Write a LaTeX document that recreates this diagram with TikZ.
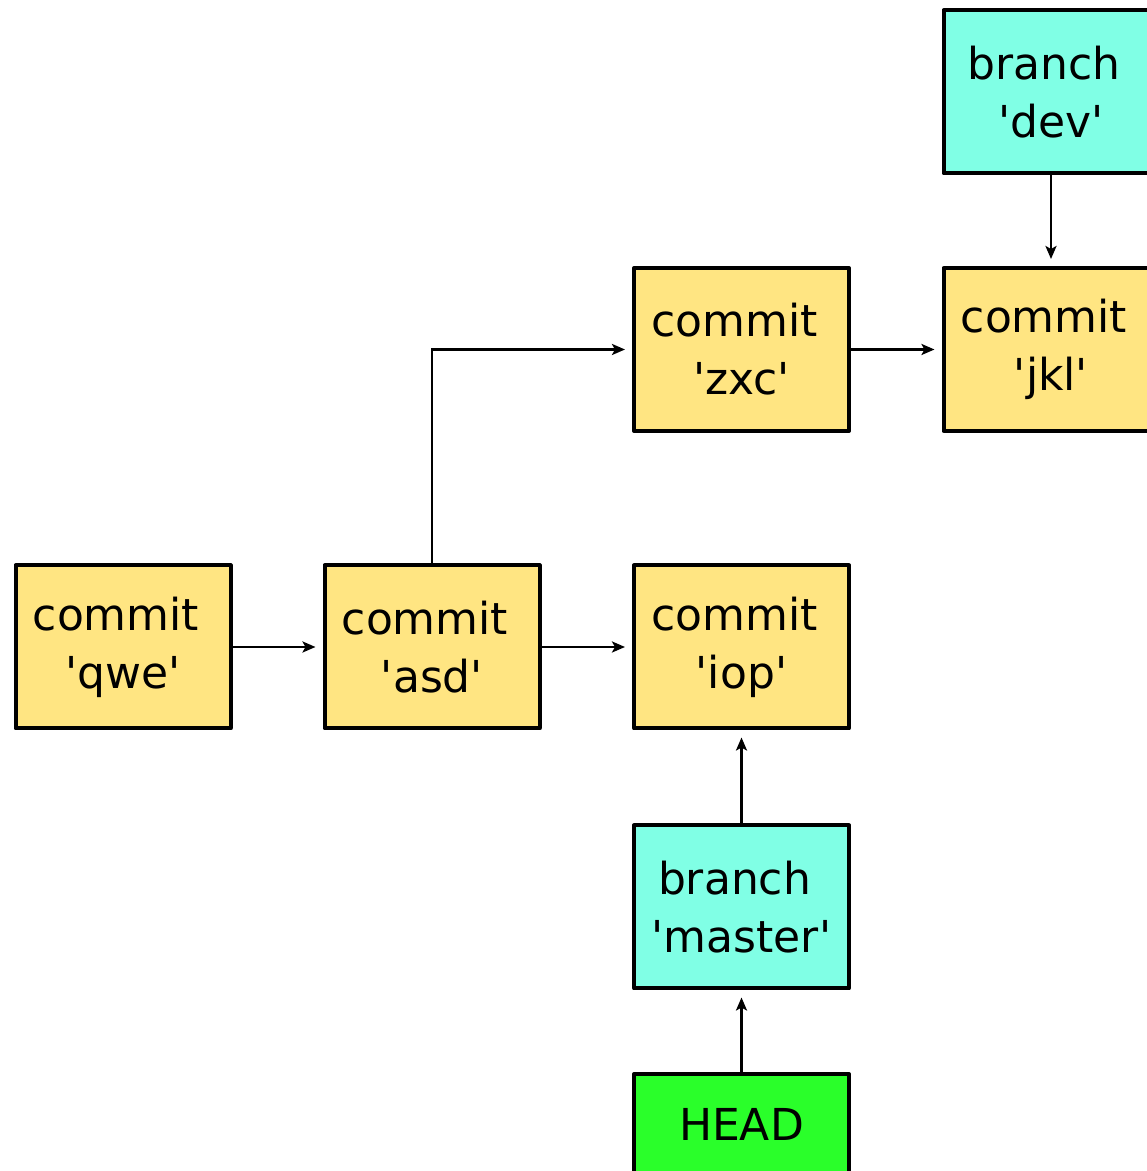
\documentclass[tikz,border=0pt]{standalone}
\usepackage{fontspec}
\setmainfont{DejaVu Sans}
\usetikzlibrary{arrows.meta}
\definecolor{commitfill}{RGB}{255,229,130}
\definecolor{branchfill}{RGB}{128,255,229}
\definecolor{headfill}{RGB}{42,255,42}
\newcommand{\q}{\textquotesingle}
% first-line word followed by a trailing space
\newcommand{\firstword}[1]{#1\kern14pt}
\begin{document}
\begin{tikzpicture}[x=1pt,y=1pt,
  box/.style={draw=black, line width=4pt, line join=round, rectangle,
    minimum width=215pt, minimum height=163pt, inner sep=0pt, align=center,
    font=\fontsize{44pt}{58pt}\selectfont},
  commitbox/.style={box, fill=commitfill},
  branchbox/.style={box, fill=branchfill},
  headbox/.style={box, fill=headfill, minimum height=100pt},
  arr/.style={draw=black, line width=2.8pt,
    -{Stealth[length=13pt,width=11pt,inset=3pt]}, shorten >=7pt}]
\useasboundingbox (0,0) rectangle (1147,1171);
% commits
\node[commitbox] (qwe) at (123,524) {\firstword{commit}\\\q qwe\q};
\node[commitbox] (asd) at (432,524) {\firstword{commit}\\\q asd\q};
\node[commitbox] (iop) at (741.5,524) {\firstword{commit}\\\q iop\q};
\node[commitbox] (zxc) at (741.5,821.5) {\firstword{commit}\\\q zxc\q};
\node[commitbox] (jkl) at (1051,821.5) {\firstword{commit}\\\q jkl\q};
% branches and HEAD
\node[branchbox] (dev) at (1051,1079) {\firstword{branch}\\\q dev\q};
\node[branchbox] (master) at (741.5,264) {\firstword{branch}\\\q master\q};
\node[headbox] (head) at (741.5,47) {HEAD};
% history links
\draw[arr] (qwe.east) -- (asd.west);
\draw[arr] (asd.east) -- (iop.west);
\draw[arr] (asd.north) |- (zxc.west);
\draw[arr] (zxc.east) -- (jkl.west);
% references
\draw[arr] (dev.south) -- (jkl.north);
\draw[arr] (master.north) -- (iop.south);
\draw[arr] (head.north) -- (master.south);
\end{tikzpicture}
\end{document}
